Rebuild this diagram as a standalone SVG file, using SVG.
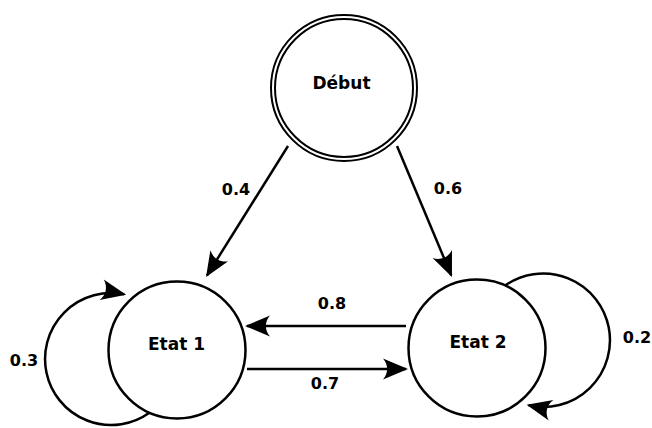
<svg xmlns="http://www.w3.org/2000/svg" width="652" height="428" viewBox="0 0 652 428">
<style>
.node{fill:none;stroke:#000;stroke-width:2.5}
.lbl{font-family:"DejaVu Sans","Liberation Sans",sans-serif;font-weight:bold;font-size:16px;fill:#000;text-anchor:middle}
.name{font-size:17px}
.edge{fill:none;stroke:#000;stroke-width:2.5}
</style>
<defs>
<marker id="arr" markerUnits="userSpaceOnUse" viewBox="-27 -12 31 24" refX="-2" refY="0" markerWidth="31" markerHeight="24" orient="auto">
<path d="M 0 0 L -25 -10.5 C -19.5 -4 -19.5 4 -25 10.5 Z" fill="#000"/>
</marker>
</defs>
<rect width="652" height="428" fill="#fff"/>
<g id="connectors">
<path class="edge" d="M 288 146 L 207.1 275.3" marker-end="url(#arr)"/>
<path class="edge" d="M 397 146 L 451.2 275.2" marker-end="url(#arr)"/>
<path class="edge" d="M 406 326 L 247 326" marker-end="url(#arr)"/>
<path class="edge" d="M 247 369 L 406 369" marker-end="url(#arr)"/>
<path class="edge" d="M 149.4 412.7 A 66 66 0 1 1 124.2 294.3" marker-end="url(#arr)"/>
<path class="edge" d="M 505 285.6 A 66.7 66.7 0 1 1 528.6 405.3" marker-end="url(#arr)"/>
<text class="lbl" x="236" y="195">0.4</text>
<text class="lbl" x="448" y="194">0.6</text>
<text class="lbl" x="332" y="309">0.8</text>
<text class="lbl" x="325" y="389">0.7</text>
<text class="lbl" x="24" y="366">0.3</text>
<text class="lbl" x="637" y="343">0.2</text>
</g>
<g id="debut">
<circle cx="344" cy="88" r="71" fill="#fff" stroke="#000" stroke-width="6"/>
<circle cx="344" cy="88" r="71" fill="none" stroke="#fff" stroke-width="2"/>
<text class="lbl name" x="341.5" y="89">Début</text>
</g>
<g id="etat1">
<circle class="node" cx="177" cy="350" r="68.5"/>
<text class="lbl name" x="176.5" y="350">Etat 1</text>
</g>
<g id="etat2">
<circle class="node" cx="477" cy="348" r="68.5"/>
<text class="lbl name" x="478" y="348">Etat 2</text>
</g>
</svg>
